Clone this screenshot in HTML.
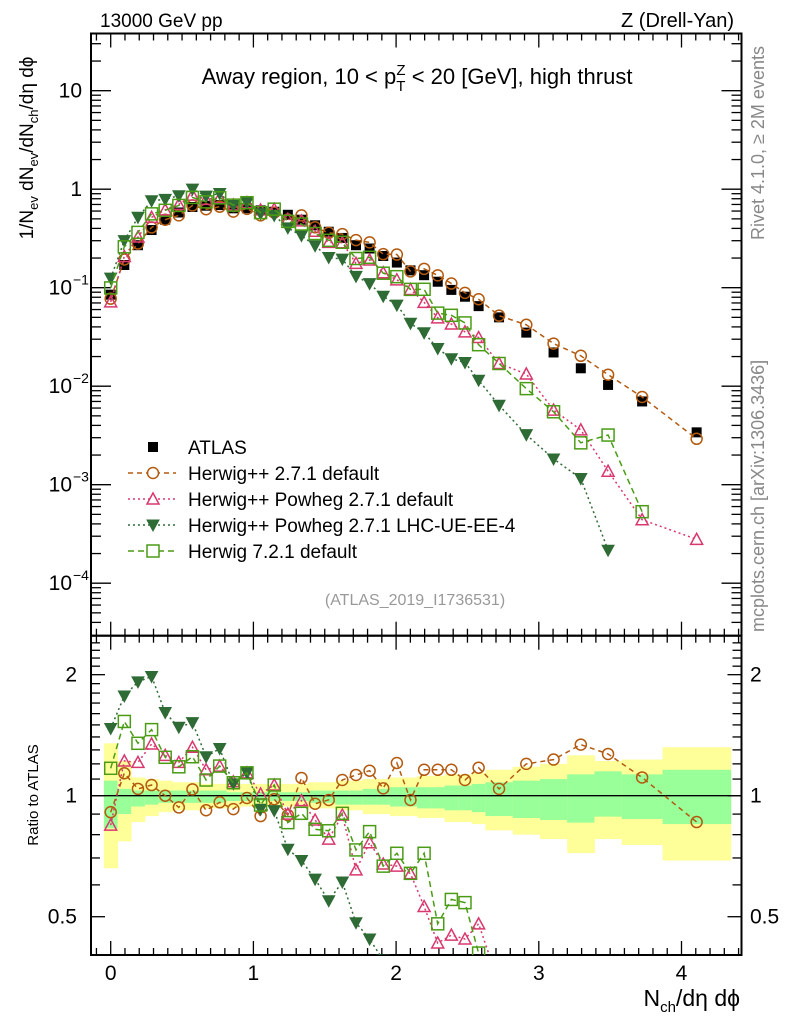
<!DOCTYPE html>
<html><head><meta charset="utf-8">
<style>
html,body{margin:0;padding:0;background:#fff;width:786px;height:1024px;overflow:hidden;}
svg{display:block;font-family:"Liberation Sans",sans-serif;}
</style></head>
<body>
<svg id="chart" width="786" height="1024" viewBox="0 0 786 1024" xmlns="http://www.w3.org/2000/svg">
<text x="100" y="27" font-size="19">13000 GeV pp</text>
<text x="734" y="27" font-size="20" text-anchor="end">Z (Drell-Yan)</text>
<text x="417" y="84" font-size="22" text-anchor="middle">Away region, 10 &lt; p<tspan font-size="15" dy="7">T</tspan><tspan font-size="15" dx="-9" dy="-16">Z</tspan><tspan dy="9"> &lt; 20 [GeV], high thrust</tspan></text>
<text transform="translate(764,240) rotate(-90)" font-size="18" fill="#888">Rivet 4.1.0, ≥ 2M events</text>
<text transform="translate(764,632) rotate(-90)" font-size="18" fill="#888">mcplots.cern.ch [arXiv:1306.3436]</text>
<text x="415" y="605" font-size="16" fill="#999" text-anchor="middle">(ATLAS_2019_I1736531)</text>
<text transform="translate(33,148) rotate(-90)" font-size="19" text-anchor="middle">1/N<tspan font-size="13" dy="5">ev</tspan><tspan dy="-5"> dN</tspan><tspan font-size="13" dy="5">ev</tspan><tspan dy="-5">/dN</tspan><tspan font-size="13" dy="5">ch</tspan><tspan dy="-5">/dη dϕ</tspan></text>
<text transform="translate(38,795) rotate(-90)" font-size="15" text-anchor="middle">Ratio to ATLAS</text>
<text x="740" y="1006" font-size="23" text-anchor="end">N<tspan font-size="15" dy="6">ch</tspan><tspan dy="-6">/dη dϕ</tspan></text>
<g id="g"></g>
</svg>
<script>
const categories=[0,1,2,3,4,5,6,7,8,9,10,11,12,13,14,15,16,17,18,19,20,21,22,23,24,25,26,27,28.5,30.5,32.5,34.5,36.5,39,43];
const binLo=[0,1,2,3,4,5,6,7,8,9,10,11,12,13,14,15,16,17,18,19,20,21,22,23,24,25,26,27,28,30,32,34,36,38,41];
const binHi=[1,2,3,4,5,6,7,8,9,10,11,12,13,14,15,16,17,18,19,20,21,22,23,24,25,26,27,28,30,32,34,36,38,41,46];
const atlas=[0.085,0.17,0.27,0.385,0.49,0.58,0.66,0.68,0.69,0.64,0.64,0.61,0.59,0.55,0.49,0.43,0.37,0.32,0.27,0.25,0.21,0.18,0.15,0.134,0.115,0.095,0.081,0.065,0.050,0.035,0.022,0.0152,0.0103,0.0070,0.0034];
const ratioHerwig=[0.91,1.137,1.04,1.063,1.0,0.935,1.037,0.92,0.963,0.926,0.987,0.89,0.98,0.895,1.107,0.955,0.976,1.094,1.126,1.154,1.043,1.206,0.976,1.16,1.16,1.16,1.094,1.174,1.04,1.2,1.23,1.34,1.27,1.11,0.86];
const ratioPowheg=[0.845,1.22,1.21,1.345,1.26,1.21,1.32,1.16,1.185,1.083,1.14,1.01,1.063,0.90,0.972,0.87,0.78,0.895,0.654,0.764,0.676,0.668,0.64,0.53,0.43,0.45,0.44,0.48,0.34,0.38,0.26,0.237,0.133,0.063,0.082];
const ratioUE=[1.47,1.77,1.92,1.98,1.61,1.48,1.52,1.25,1.31,1.07,1.14,0.925,0.918,0.736,0.69,0.62,0.548,0.61,0.483,0.44,0.39,0.37,0.29,0.26,0.21,0.20,0.215,0.177,0.128,0.092,0.083,0.076,0.021,null,null];
const ratioH7=[1.17,1.53,1.35,1.46,1.246,1.18,1.25,1.094,1.185,1.077,1.14,0.948,1.063,0.857,0.904,0.825,0.818,0.904,0.733,0.814,0.668,0.719,0.641,0.719,0.48,0.552,0.542,0.406,0.34,0.27,0.25,0.175,0.31,0.076,null];
const yellowUp=[1.35,1.22,1.11,1.10,1.09,1.08,1.08,1.07,1.07,1.07,1.07,1.07,1.07,1.07,1.07,1.08,1.08,1.09,1.09,1.10,1.10,1.11,1.11,1.12,1.12,1.13,1.13,1.14,1.16,1.18,1.20,1.26,1.22,1.23,1.32];
const yellowLo=[0.66,0.77,0.86,0.89,0.91,0.92,0.92,0.93,0.93,0.93,0.94,0.94,0.94,0.94,0.94,0.93,0.93,0.92,0.92,0.90,0.90,0.89,0.89,0.88,0.88,0.86,0.86,0.85,0.82,0.80,0.78,0.72,0.78,0.754,0.69];
const greenUp=[1.09,1.04,1.03,1.03,1.03,1.03,1.03,1.03,1.03,1.02,1.02,1.02,1.02,1.02,1.02,1.03,1.03,1.03,1.03,1.04,1.04,1.05,1.05,1.05,1.05,1.06,1.06,1.07,1.08,1.09,1.10,1.13,1.15,1.13,1.16];
const greenLo=[0.83,0.90,0.94,0.95,0.96,0.96,0.96,0.96,0.96,0.97,0.97,0.97,0.97,0.97,0.97,0.96,0.96,0.95,0.95,0.95,0.95,0.94,0.94,0.93,0.93,0.92,0.92,0.91,0.89,0.88,0.87,0.857,0.887,0.875,0.85];
const xTicks=[0,1,2,3,4];
const mainTicks=[{v:10,t:"10"},{v:1,t:"1"},{v:0.1,t:"10",e:"−1"},{v:0.01,t:"10",e:"−2"},{v:0.001,t:"10",e:"−3"},{v:0.0001,t:"10",e:"−4"}];
const ratioTicks=[2,1,0.5];
const legendLabels=["ATLAS","Herwig++ 2.7.1 default","Herwig++ Powheg 2.7.1 default","Herwig++ Powheg 2.7.1 LHC-UE-EE-4","Herwig 7.2.1 default"];

const BW=0.09549;
const L=91,R=741.5,T=33.5,MB=635.7,RB=955;
const X=v=>110.7+v*142.7;
const YM=v=>189.2-Math.log10(v)*98.5;
const YR=v=>795.7-Math.log10(v)*402;
const NS="http://www.w3.org/2000/svg";
const g=document.getElementById('g');
function mk(tag,attrs,parent){const e=document.createElementNS(NS,tag);for(const k in attrs)e.setAttribute(k,attrs[k]);(parent||g).appendChild(e);return e;}

const defs=mk('defs',{});
const c1=mk('clipPath',{id:'cm'},defs);mk('rect',{x:L,y:T,width:R-L,height:MB-T},c1);
const c2=mk('clipPath',{id:'cr'},defs);mk('rect',{x:L,y:MB,width:R-L,height:RB-MB},c2);

const bandG=mk('g',{'clip-path':'url(#cr)'});


categories.forEach((c,i)=>{
  const x1=X(binLo[i]*BW-BW/2),x2=X(binHi[i]*BW-BW/2);
  const r1=mk('rect',{x:x1,y:YR(yellowUp[i]),width:x2-x1+0.5,height:YR(yellowLo[i])-YR(yellowUp[i]),fill:'#ffff99'},bandG);
  
  
  const r2=mk('rect',{x:x1,y:YR(greenUp[i]),width:x2-x1+0.5,height:YR(greenLo[i])-YR(greenUp[i]),fill:'#99ff99'},bandG);
  
  
});
const one=mk('line',{x1:L,x2:R,y1:YR(1),y2:YR(1),stroke:'#000','stroke-width':1.3});



function frame(y1,y2,name){const r=mk('rect',{x:L,y:y1,width:R-L,height:y2-y1,fill:'none',stroke:'#000','stroke-width':2});}
frame(T,MB,'main-frame');frame(MB,RB,'ratio-frame');
const tk=mk('g',{stroke:'#000','stroke-width':1.3});


for(let k=-1;k<=44;k++){const v=k/10;const x=X(v);if(x<L+1||x>R-1)continue;const big=k%10===0;const len=big?14:7;
  [[T,T+len],[MB,MB-len],[MB,MB+len],[RB,RB-len]].forEach(p=>mk('line',{x1:x,x2:x,y1:p[0],y2:p[1]},tk));}
for(let d=-5;d<=1;d++){for(let m=1;m<=9;m++){const v=m*Math.pow(10,d);const y=YM(v);if(y<T+1||y>MB-1)continue;const len=m===1?20:10;
  mk('line',{x1:L,x2:L+len,y1:y,y2:y},tk);mk('line',{x1:R,x2:R-len,y1:y,y2:y},tk);}}
for(let k=4;k<=25;k++){const v=k/10;const y=YR(v);if(y<MB+1||y>RB-1)continue;const big=(k===5||k===10||k===20);const len=big?14:9;
  mk('line',{x1:L,x2:L+len,y1:y,y2:y},tk);mk('line',{x1:R,x2:R-len,y1:y,y2:y},tk);}
xTicks.forEach(v=>{const t=mk('text',{x:X(v),y:980,'font-size':21,'text-anchor':'middle'});t.textContent=v;});
mainTicks.forEach(o=>{const t=mk('text',{x:o.e?72:82,y:YM(o.v)+7,'font-size':21,'text-anchor':'end'});t.textContent=o.t;
  if(o.e){const s=mk('text',{x:73,y:YM(o.v)-3,'font-size':14});s.textContent=o.e;}});
ratioTicks.forEach(v=>{const t=mk('text',{x:77,y:YR(v)+7,'font-size':21,'text-anchor':'end'});t.textContent=v;
  const t2=mk('text',{x:750,y:YR(v)+7,'font-size':21});t2.textContent=v;});

function marker(type,x,y,col,parent){
  if(type==='sq')return mk('rect',{x:x-5,y:y-5,width:10,height:10,fill:'#000'},parent);
  if(type==='circ')return mk('circle',{cx:x,cy:y,r:5.5,fill:'none',stroke:col,'stroke-width':1.5},parent);
  if(type==='tri')return mk('path',{d:`M${x-6},${y+5}L${x+6},${y+5}L${x},${y-6}Z`,fill:'none',stroke:col,'stroke-width':1.5},parent);
  if(type==='dtri')return mk('path',{d:`M${x-6},${y-5}L${x+6},${y-5}L${x},${y+6}Z`,fill:col,stroke:col,'stroke-width':1},parent);
  if(type==='osq')return mk('rect',{x:x-6,y:y-6,width:12,height:12,fill:'none',stroke:col,'stroke-width':1.5},parent);
}
const series=[
  {name:'herwig-2-7-1-default',r:ratioHerwig,col:'#b35a0f',m:'circ',dash:'5,4'},
  {name:'powheg-default',r:ratioPowheg,col:'#d9386e',m:'tri',dash:'2,3'},
  {name:'powheg-lhc-ue-ee-4',r:ratioUE,col:'#2f6b35',m:'dtri',dash:'2,3'},
  {name:'herwig-7-2-1-default',r:ratioH7,col:'#4a9c15',m:'osq',dash:'6,4'}
];
const atlasG=mk('g',{'clip-path':'url(#cm)'});


categories.forEach((c,i)=>{const m=marker('sq',X(c*BW),YM(atlas[i]),'#000',atlasG);});
series.forEach(s=>{
  ['cm','cr'].forEach(panel=>{
    const Y=panel==='cm'?YM:YR;
    const grp=mk('g',{'clip-path':`url(#${panel})`});
    
    
    let d='';let pen=false;
    categories.forEach((c,i)=>{const r=s.r[i];if(r==null){pen=false;return;}const v=panel==='cm'?atlas[i]*r:r;d+=(pen?'L':'M')+X(c*BW).toFixed(1)+','+Y(v).toFixed(1);pen=true;});
    const p=mk('path',{d:d,fill:'none',stroke:s.col,'stroke-width':1.5,'stroke-dasharray':s.dash},grp);
    
    
    categories.forEach((c,i)=>{const r=s.r[i];if(r==null)return;const v=panel==='cm'?atlas[i]*r:r;
      const m=marker(s.m,X(c*BW),Y(v),s.col,grp);
      
      });
  });
});

const lg=mk('g',{});


const lys=[447,473,499,525,551];
legendLabels.forEach((lab,i)=>{
  const y=lys[i];
  const e=mk('g',{},lg);
  
  
  if(i===0){marker('sq',153,y,'#000',e);}
  else{const s=series[i-1];mk('line',{x1:128,x2:176,y1:y,y2:y,stroke:s.col,'stroke-width':1.5,'stroke-dasharray':s.dash},e);
    const mm=marker(s.m,153,y,s.col,e);if(s.m!=='dtri')mm.setAttribute('fill','#fff');}
  const t=mk('text',{x:188,y:y+7,'font-size':19},e);t.textContent=lab;
});
</script>
</body></html>
